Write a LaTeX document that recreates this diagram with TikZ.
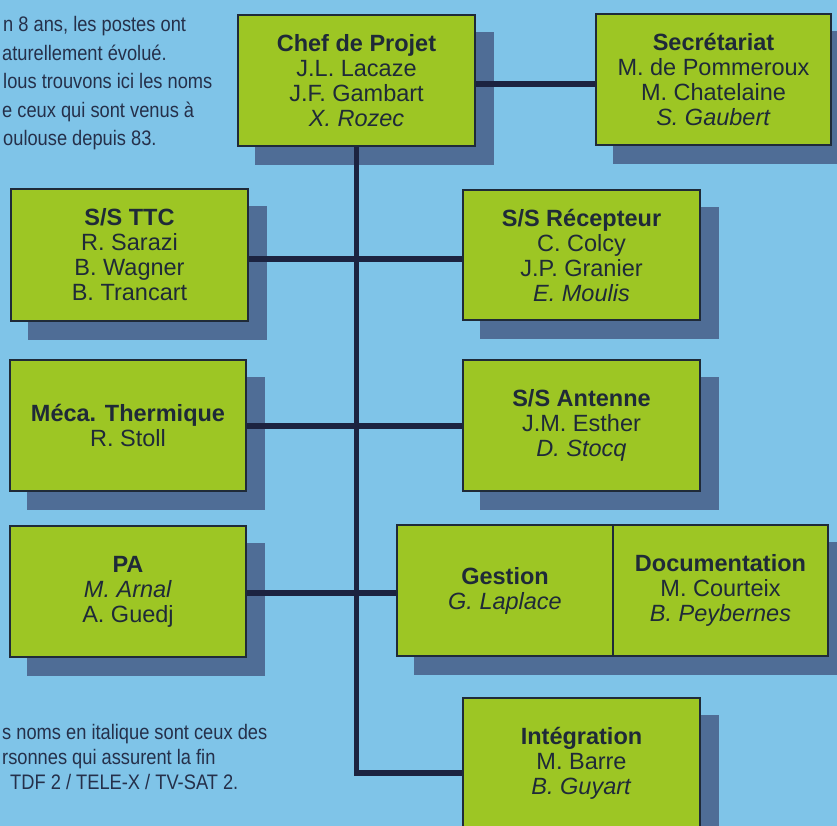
\documentclass[tikz,border=0pt]{standalone}
\usepackage{fontspec}
\setmainfont{Liberation Sans}
\newfontfamily\condfont[FakeStretch=0.87]{Liberation Sans}
\definecolor{bgblue}{HTML}{7FC4E8}
\definecolor{boxgreen}{HTML}{9DC624}
\definecolor{ink}{HTML}{1F2A38}
\definecolor{notec}{HTML}{25304A}
\definecolor{shadowc}{HTML}{4F6D96}
\definecolor{linec}{HTML}{1C2340}
\pgfdeclarelayer{background}
\pgfdeclarelayer{shad}
\pgfdeclarelayer{lines}
\pgfsetlayers{background,shad,lines,main}
\tikzset{
  box/.style={draw=ink, line width=2.5pt, fill=boxgreen, text=ink, align=center,
    inner sep=0pt, minimum width=237pt, minimum height=131pt,
    font=\fontsize{23.5}{25}\selectfont},
  halfbox/.style={box, minimum width=216pt},
  conn/.style={draw=linec, line width=5.5pt},
  note/.style={anchor=base west, inner sep=0pt, text=notec,
    font=\condfont\fontsize{21}{28}\selectfont},
  sh/.style={fill=shadowc}
}
\begin{document}
\begin{tikzpicture}[x=1pt,y=-1pt]
\useasboundingbox (0,0) rectangle (837,826);
\begin{pgfonlayer}{background}
  \fill[bgblue] (0,0) rectangle (837,826);
\end{pgfonlayer}
\clip (0,0) rectangle (837,826);

% boxes
\node[box] (chef) at (356.5,80.5) {\textbf{Chef de Projet}\\J.L. Lacaze\\J.F. Gambart\\\textit{X. Rozec}};
\node[box, minimum width=235pt] (sec) at (713.5,79.5) {\textbf{Secrétariat}\\M. de Pommeroux\\M. Chatelaine\\\textit{S. Gaubert}};
\node[box, minimum width=237pt, minimum height=132pt] (ttc) at (129.5,255) {\textbf{S/S TTC}\\R. Sarazi\\B. Wagner\\B. Trancart};
\node[box, minimum height=130pt] (rec) at (581.5,255) {\textbf{S/S Récepteur}\\C. Colcy\\J.P. Granier\\\textit{E. Moulis}};
\node[box, minimum width=236pt] (meca) at (128,425.5) {\textbf{Méca. Thermique}\\R. Stoll};
\node[box] (ant) at (581.5,425.5) {\textbf{S/S Antenne}\\J.M. Esther\\\textit{D. Stocq}};
\node[box, minimum width=236pt] (pa) at (128,591.5) {\textbf{PA}\\\textit{M. Arnal}\\A. Guedj};
\node[halfbox] (gest) at (505,590.5) {\textbf{Gestion}\\\textit{G. Laplace}};
\node[halfbox, minimum width=215pt] (doc) at (720.5,590.5) {\textbf{Documentation}\\M. Courteix\\\textit{B. Peybernes}};
\node[box] (integ) at (581.5,763.5) {\textbf{Intégration}\\M. Barre\\\textit{B. Guyart}};

% shadows
\begin{pgfonlayer}{shad}
  \clip (0,0) rectangle (837,826);
  \foreach \n in {chef,sec,ttc,rec,meca,ant,pa,integ}
    \fill[sh] ([shift={(18,18)}]\n.north west) rectangle ([shift={(18,18)}]\n.south east);
  \fill[sh] ([shift={(18,18)}]gest.north west) rectangle ([shift={(18,18)}]doc.south east);
\end{pgfonlayer}

% connectors
\begin{pgfonlayer}{lines}
  \coordinate (r1) at (0,84);
  \coordinate (r2) at (0,259);
  \coordinate (r3) at (0,426);
  \coordinate (r4) at (0,593);
  \coordinate (r5) at (0,773);
  \draw[conn] (chef.east |- r1) -- (sec.west |- r1);
  \draw[conn] (ttc.east |- r2) -- (rec.west |- r2);
  \draw[conn] (meca.east |- r3) -- (ant.west |- r3);
  \draw[conn] (pa.east |- r4) -- (gest.west |- r4);
  \draw[conn] (chef.south) -- (chef.south |- r5) -- (integ.west |- r5);
\end{pgfonlayer}

% notes
\node[note] (t1) at (3,32) {n 8 ans, les postes ont};
\node[note] (t2) at (2,60.5) {aturellement évolué.};
\node[note] (t3) at (3,89) {lous trouvons ici les noms};
\node[note] (t4) at (2,117.5) {e ceux qui sont venus à};
\node[note] (t5) at (3,146) {oulouse depuis 83.};
\node[note] (b1) at (2,739) {s noms en italique sont ceux des};
\node[note] (b2) at (2,764) {rsonnes qui assurent la fin};
\node[note] (b3) at (10,789) {TDF 2 / TELE-X / TV-SAT 2.};
\end{tikzpicture}
\end{document}
